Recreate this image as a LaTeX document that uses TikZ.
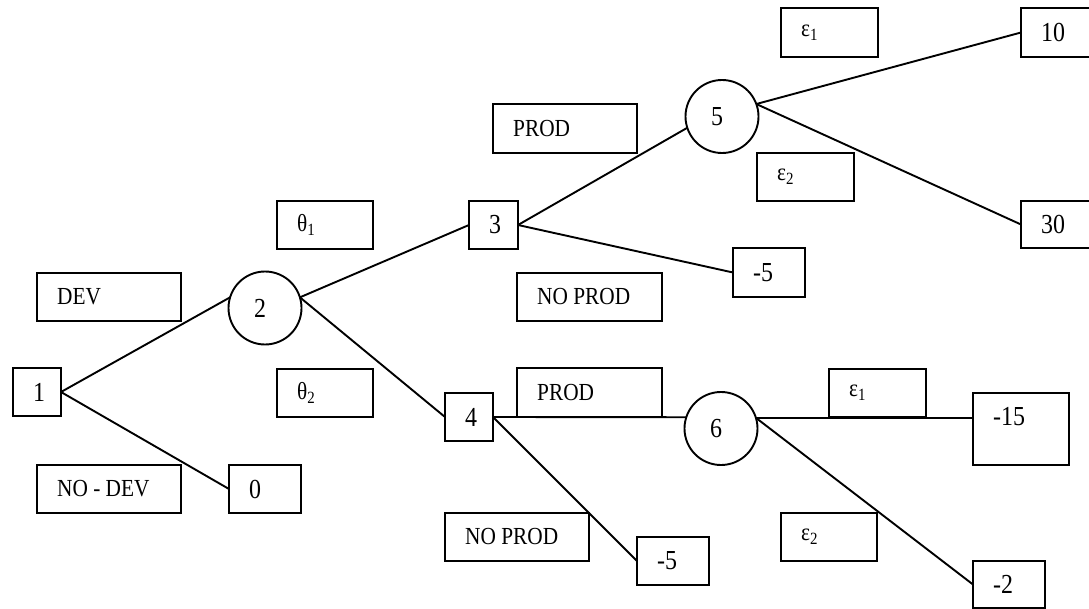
\documentclass[tikz,border=0pt]{standalone}
\usepackage{fontspec}
\setmainfont[FakeStretch=0.87]{Liberation Serif}
\begin{document}
\begin{tikzpicture}[x=1pt,y=-1pt,
  box/.style={draw, line width=1.9pt, rectangle, inner sep=0pt, outer sep=0pt},
  sz/.style 2 args={minimum width=#1pt, minimum height=#2pt},
  chance/.style={draw, line width=1.9pt, circle, inner sep=0pt, outer sep=0pt, minimum size=73pt},
  txt/.style={anchor=west, xshift=20pt, inner sep=0pt, font=\fontsize{24.5}{28}\selectfont},
  val/.style={txt, font=\fontsize{27.5}{32}\selectfont},
  num/.style={anchor=center, xshift=-5pt, inner sep=0pt, font=\fontsize{27.5}{32}\selectfont},
  edge/.style={line width=1.9pt}
]
\useasboundingbox (0,0) rectangle (1089,609);

% decision nodes
\node[box, sz={48}{48}, label={[val]west:1}] (b1) at (37,392) {};
\node[box, sz={49}{48}, label={[val]west:3}] (b3) at (493.5,225) {};
\node[box, sz={48}{48}, label={[val]west:4}] (b4) at (469,417) {};

% chance nodes
\node[chance, label={[num]center:2}] (c2) at (265,308) {};
\node[chance, label={[num]center:5}] (c5) at (722,116.5) {};
\node[chance, label={[num]center:6}] (c6) at (721,428.5) {};

% pay-offs
\node[box, sz={72}{48}, label={[val]west:0}] (t0) at (265,489) {};
\node[box, sz={72}{49}, label={[val]west:-5}] (m5a) at (769,272.5) {};
\node[box, sz={72}{49}, label={[val]west:10}] (t10) at (1057,32.5) {};
\node[box, sz={72}{47}, label={[val]west:30}] (t30) at (1057,224.5) {};
\node[box, sz={72}{48}, label={[val]west:-5}] (m5b) at (673,561) {};
\node[box, sz={96}{72}, label={[val, yshift=12pt]west:-15}] (t15) at (1021,429) {};
\node[box, sz={72}{47}, label={[val]west:-2}] (tm2) at (1009,584.5) {};

% branch labels
\node[box, sz={144}{48}, label={[txt]west:DEV}] (dev) at (109,297) {};
\node[box, sz={144}{48}, label={[txt]west:NO - DEV}] (nodev) at (109,489) {};
\node[box, sz={96}{48}, label={[txt]west:θ\textsubscript{1}}] (th1) at (325,225) {};
\node[box, sz={96}{48}, label={[txt]west:θ\textsubscript{2}}] (th2) at (325,393) {};
\node[box, sz={144}{49}, label={[txt]west:PROD}] (prodA) at (565,128.5) {};
\node[box, sz={145}{48}, label={[txt]west:NO PROD}] (noprodA) at (589.5,297) {};
\node[box, sz={145}{49}, label={[txt]west:PROD}] (prodB) at (589.5,392.5) {};
\node[box, sz={144}{48}, label={[txt]west:NO PROD}] (noprodB) at (517,537) {};
\node[box, sz={97}{49}, label={[txt]west:ε\textsubscript{1}}] (e1A) at (829.5,32.5) {};
\node[box, sz={97}{48}, label={[txt]west:ε\textsubscript{2}}] (e2A) at (805.5,177) {};
\node[box, sz={97}{48}, label={[txt]west:ε\textsubscript{1}}] (e1B) at (877.5,393) {};
\node[box, sz={96}{48}, label={[txt]west:ε\textsubscript{2}}] (e2B) at (829,537) {};

% branches
\draw[edge] (b1.east) -- (c2.163);
\draw[edge] (b1.east) -- (t0.west);
\draw[edge] (c2.17) -- (b3.west);
\draw[edge] (c2.17) -- (b4.west);
\draw[edge] (b3.east) -- (c5.198);
\draw[edge] (b3.east) -- (m5a.west);
\draw[edge] (c5.20) -- (t10.west);
\draw[edge] (c5.20) -- (t30.west);
\draw[edge] (b4.east) -- (c6.162);
\draw[edge] (b4.east) -- (m5b.west);
\draw[edge] (c6.17) -- (c6.17 -| t15.west);
\draw[edge] (c6.17) -- (tm2.west);
\end{tikzpicture}
\end{document}
